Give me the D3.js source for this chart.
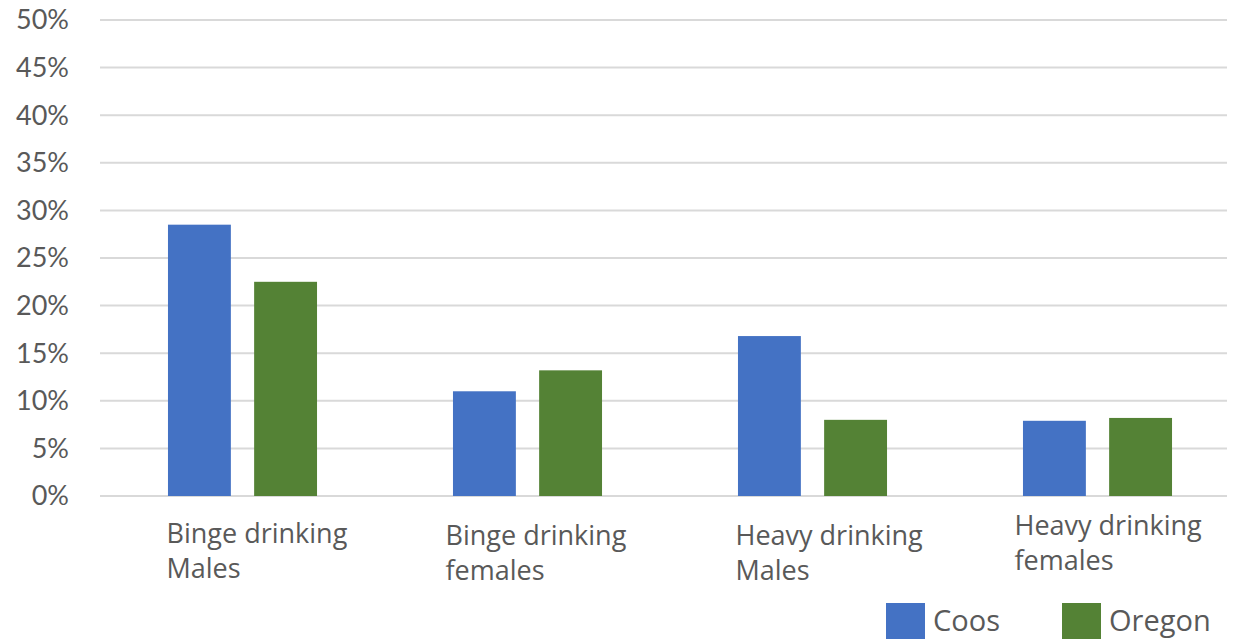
<!DOCTYPE html>
<html>
<head>
<meta charset="utf-8">
<script src="https://cdn.jsdelivr.net/npm/d3@7"></script>
<style>
  body { margin: 0; background: #fff; }
  svg { display: block; }
</style>
</head>
<body>
<svg id="chart"></svg>
<script>
const categories = [
    ["Binge drinking", "Males"],
    ["Binge drinking", "females"],
    ["Heavy drinking", "Males"],
    ["Heavy drinking", "females"]
];
const seriesNames = ["Coos", "Oregon"];
const coosValues = [28.5, 11.0, 16.8, 7.9];
const oregonValues = [22.5, 13.2, 8.0, 8.2];
const yTicks = [0, 5, 10, 15, 20, 25, 30, 35, 40, 45, 50];
const colors = ["#4472C4", "#548235"];

function drawChart(svgId, width, height) {
    const svg = d3.select(`#${svgId}`)
        .attr("width", width)
        .attr("height", height);

    const left = 100, gridRight = 1227, top = 20, bottom = 496;
    const values = [coosValues, oregonValues];

    const y = d3.scaleLinear().domain([0, 50]).range([bottom, top]);

    // the plot continues past the picture's right edge
    const x0 = d3.scaleBand()
        .domain(d3.range(categories.length))
        .range([left, left + 285 * 4])
        .paddingInner(0.477)
        .paddingOuter(0.2385);

    const x1 = d3.scaleBand()
        .domain(seriesNames)
        .range([0, x0.bandwidth()])
        .paddingInner(0.27);

    // gridlines
    svg.append("g")
        .selectAll("line")
        .data(yTicks)
        .join("line")
        .attr("x1", left)
        .attr("x2", gridRight)
        .attr("y1", d => y(d))
        .attr("y2", d => y(d))
        .attr("stroke", "#d9d9d9")
        .attr("stroke-width", 2);

    // y tick labels
    svg.append("g")
        .selectAll("text")
        .data(yTicks)
        .join("text")
        .attr("x", 69)
        .attr("y", d => y(d))
        .attr("dy", "0.35em")
        .attr("text-anchor", "end")
        .attr("font-family", "Lato, 'Open Sans', sans-serif")
        .attr("font-size", 27)
        .attr("fill", "#595959")
        .text(d => d + "%");

    // bars
    const groups = svg.append("g")
        .selectAll("g")
        .data(categories.map((c, i) => i))
        .join("g")
        .attr("transform", i => `translate(${x0(i)},0)`);

    groups.selectAll("rect")
        .data(i => seriesNames.map((s, k) => ({ s, k, v: values[k][i] })))
        .join("rect")
        .attr("x", d => x1(d.s))
        .attr("width", x1.bandwidth())
        .attr("y", d => y(d.v))
        .attr("height", d => bottom - y(d.v))
        .attr("fill", d => colors[d.k]);

    // category labels (wrapped, left aligned like the original)
    const labelDx = [-76, -82, -77, -83];
    const labelDy = [0, 2, 2, -8];
    const lab = svg.append("g")
        .selectAll("text")
        .data(categories.map((c, i) => ({ c, i })))
        .join("text")
        .attr("font-family", "'Open Sans', 'Noto Sans', sans-serif")
        .attr("font-size", 27)
        .attr("fill", "#595959")
        .attr("transform", d => `translate(${x0(d.i) + x0.bandwidth() / 2 + labelDx[d.i]},${543 + labelDy[d.i]})`);

    lab.selectAll("tspan")
        .data(d => d.c)
        .join("tspan")
        .attr("x", 0)
        .attr("y", (d, j) => j * 35)
        .text(d => d);

    // legend
    const legendX = [886, 1062];
    const leg = svg.append("g")
        .selectAll("g")
        .data(seriesNames)
        .join("g")
        .attr("transform", (d, k) => `translate(${legendX[k]},603)`);

    leg.append("rect")
        .attr("width", 39)
        .attr("height", 39)
        .attr("fill", (d, k) => colors[k]);

    leg.append("text")
        .attr("x", 47)
        .attr("y", 28)
        .attr("font-family", "'Open Sans', 'Noto Sans', sans-serif")
        .attr("font-size", 29)
        .attr("fill", "#595959")
        .text(d => d);
}

drawChart("chart", 1234, 639);
</script>
</body>
</html>
